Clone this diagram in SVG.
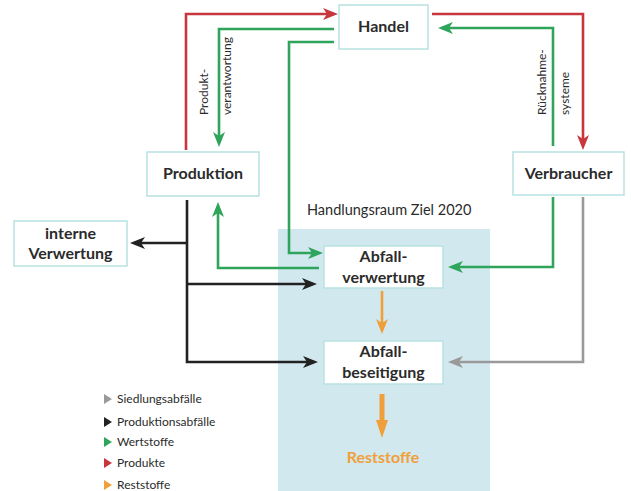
<svg xmlns="http://www.w3.org/2000/svg" width="631" height="491" viewBox="0 0 631 491">
<style>
.box{fill:#fff;stroke:#b8e2e2;stroke-width:1.5}
.lbl{font-family:Lato,"Open Sans","Liberation Sans",sans-serif;font-weight:bold;font-size:16px;fill:#2b2b2b;text-anchor:middle}
.small{font-family:Lato,"Open Sans","Liberation Sans",sans-serif;font-size:12px;fill:#2b2b2b}
.ln{fill:none;stroke-width:2.6}
.red{stroke:#c8373e}.grn{stroke:#2ea55a}.blk{stroke:#222}.gry{stroke:#9a9a9a}.org{stroke:#f0a03a}
</style>
<defs>
<marker id="aR" markerUnits="userSpaceOnUse" markerWidth="16" markerHeight="14" refX="11" refY="6" orient="auto"><path d="M0,0 L15,6 L0,12 L4,6 z" fill="#c8373e"/></marker>
<marker id="aG" markerUnits="userSpaceOnUse" markerWidth="16" markerHeight="14" refX="11" refY="6" orient="auto"><path d="M0,0 L15,6 L0,12 L4,6 z" fill="#2ea55a"/></marker>
<marker id="aB" markerUnits="userSpaceOnUse" markerWidth="16" markerHeight="14" refX="11" refY="6" orient="auto"><path d="M0,0 L15,6 L0,12 L4,6 z" fill="#222"/></marker>
<marker id="aY" markerUnits="userSpaceOnUse" markerWidth="16" markerHeight="14" refX="11" refY="6" orient="auto"><path d="M0,0 L15,6 L0,12 L4,6 z" fill="#9a9a9a"/></marker>
<marker id="aO" markerUnits="userSpaceOnUse" markerWidth="16" markerHeight="14" refX="11" refY="6" orient="auto"><path d="M0,0 L15,6 L0,12 L4,6 z" fill="#f0a03a"/></marker>
</defs>
<rect width="631" height="491" fill="#fff"/>
<rect x="278" y="229" width="212" height="262" fill="#d1e8ef"/>
<text x="307" y="215" class="small" style="font-size:14.5px">Handlungsraum Ziel 2020</text>

<g id="connectors">
  <path class="ln red" d="M186,150 V14 H334" marker-end="url(#aR)"/>
  <path class="ln red" d="M432,14 H583 V146" marker-end="url(#aR)"/>
  <path class="ln grn" d="M334,29 H219 V143" marker-end="url(#aG)"/>
  <path class="ln grn" d="M334,42 H289 V253 H319" marker-end="url(#aG)"/>
  <path class="ln grn" d="M553,146 V28 H442" marker-end="url(#aG)"/>
  <path class="ln grn" d="M319,268 H218 V206" marker-end="url(#aG)"/>
  <path class="ln grn" d="M553,197 V267 H452" marker-end="url(#aG)"/>
  <path class="ln gry" d="M583,197 V362 H452" marker-end="url(#aY)"/>
  <path class="ln blk" d="M187,200 V362 H314" marker-end="url(#aB)"/>
  <path class="ln blk" d="M187,243 H134" marker-end="url(#aB)"/>
  <path class="ln blk" d="M187,284 H313" marker-end="url(#aB)"/>
  <path class="ln org" d="M382,291 V330" marker-end="url(#aO)"/>
  <path d="M382,394 V426" stroke="#f0a03a" stroke-width="5" fill="none"/>
  <path d="M376,420 L382,438 L388,420 z" fill="#f0a03a"/>
  <text x="208" y="115" class="small" transform="rotate(-90 208 115)">Produkt-</text>
  <text x="231" y="115" class="small" transform="rotate(-90 231 115)">verantwortung</text>
  <text x="546" y="115" class="small" transform="rotate(-90 546 115)">Rücknahme-</text>
  <text x="569" y="115" class="small" transform="rotate(-90 569 115)">systeme</text>
</g>

<g id="handel"><rect class="box" x="339" y="5" width="89" height="44"/><text class="lbl" x="383.5" y="32">Handel</text></g>
<g id="produktion"><rect class="box" x="147" y="152" width="112" height="44"/><text class="lbl" x="203" y="179">Produktion</text></g>
<g id="verbraucher"><rect class="box" x="513" y="152" width="111" height="43"/><text class="lbl" x="568.5" y="179">Verbraucher</text></g>
<g id="interne"><rect class="box" x="14" y="221" width="113" height="45"/><text class="lbl" x="70.5" y="239">interne</text><text class="lbl" x="70.5" y="259">Verwertung</text></g>
<g id="abfallverwertung"><rect class="box" x="324" y="246" width="119" height="42"/><text class="lbl" x="383.5" y="262">Abfall-</text><text class="lbl" x="383.5" y="283">verwertung</text></g>
<g id="abfallbeseitigung"><rect class="box" x="324" y="341" width="119" height="43"/><text class="lbl" x="383.5" y="357">Abfall-</text><text class="lbl" x="383.5" y="378">beseitigung</text></g>
<g id="reststoffe"><text class="lbl" x="383" y="463" style="fill:#f0a03a">Reststoffe</text></g>

<g id="legend">
  <path d="M104,394 L112,399 L104,404 z" fill="#9a9a9a"/><text class="small" x="117" y="403">Siedlungsabfälle</text>
  <path d="M104,417 L112,422 L104,427 z" fill="#222"/><text class="small" x="117" y="426">Produktionsabfälle</text>
  <path d="M104,437 L112,442 L104,447 z" fill="#2ea55a"/><text class="small" x="117" y="446">Wertstoffe</text>
  <path d="M104,458 L112,463 L104,468 z" fill="#c8373e"/><text class="small" x="117" y="467">Produkte</text>
  <path d="M104,480 L112,485 L104,490 z" fill="#f0a03a"/><text class="small" x="117" y="489">Reststoffe</text>
</g>
</svg>
